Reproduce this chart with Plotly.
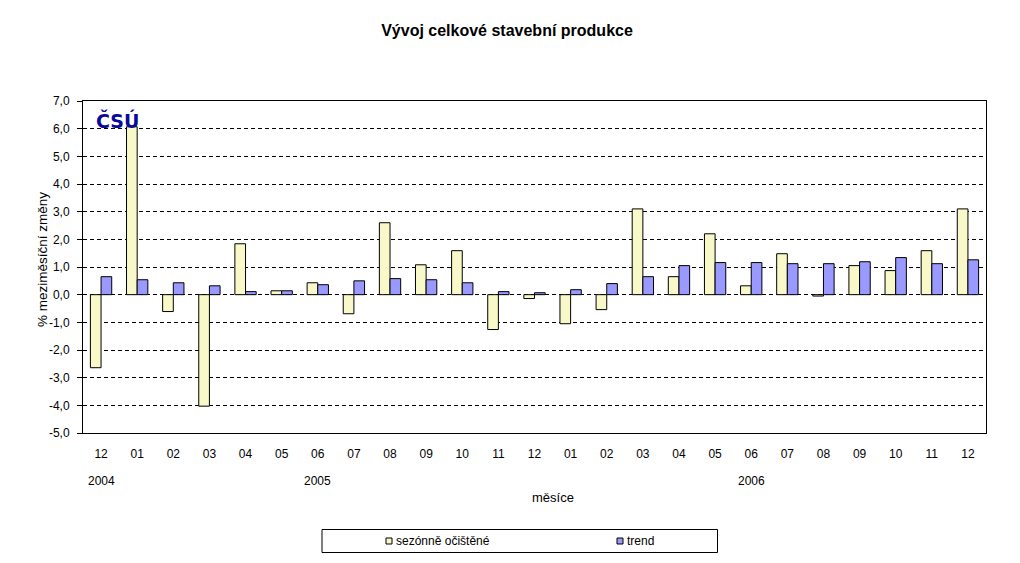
import plotly.graph_objects as go

# ---- data ----
categories = ["2004-12", "2005-01", "2005-02", "2005-03", "2005-04", "2005-05", "2005-06",
              "2005-07", "2005-08", "2005-09", "2005-10", "2005-11", "2005-12",
              "2006-01", "2006-02", "2006-03", "2006-04", "2006-05", "2006-06",
              "2006-07", "2006-08", "2006-09", "2006-10", "2006-11", "2006-12"]
month_labels = ["12", "01", "02", "03", "04", "05", "06", "07", "08", "09", "10", "11", "12",
                "01", "02", "03", "04", "05", "06", "07", "08", "09", "10", "11", "12"]
year_label_cats = ["2004-12", "2005-06", "2006-06"]
year_labels = ["2004", "2005", "2006"]
y_tick_vals = [7, 6, 5, 4, 3, 2, 1, 0, -1, -2, -3, -4, -5]
y_tick_labels = ["7,0", "6,0", "5,0", "4,0", "3,0", "2,0", "1,0", "0,0",
                 "-1,0", "-2,0", "-3,0", "-4,0", "-5,0"]

series_names = ["sezónně očištěné", "trend"]
seasonal = [-2.64, 6.07, -0.61, -4.03, 1.84, 0.14, 0.43, -0.69, 2.60, 1.08, 1.59, -1.26, -0.14,
            -1.05, -0.54, 3.10, 0.65, 2.20, 0.32, 1.48, -0.05, 1.05, 0.87, 1.59, 3.10]
trend = [0.65, 0.54, 0.43, 0.32, 0.11, 0.14, 0.36, 0.50, 0.58, 0.54, 0.43, 0.11, 0.07,
         0.18, 0.40, 0.65, 1.05, 1.16, 1.16, 1.12, 1.12, 1.19, 1.34, 1.12, 1.26]
series_colors = ["#F8F8C8", "#9999FF"]

FONT = "Liberation Sans, Arial, sans-serif"
# page body has an 8px margin; lay the figure out in screen pixels
OFF = 8
SW, SH = 1020, 563
PL, PR, PT, PB = 83, 986, 101, 433     # plot area in screen px
W, H = SW - OFF, SH - OFF
L, T = PL - OFF, PT - OFF
R, B = SW - PR, SH - PB
PW, PH = PR - PL, PB - PT


def px_x(px):
    return (px - PL) / PW


def px_y(py):
    return (PB - py) / PH


fig = go.Figure()
for name, vals, col in zip(series_names, [seasonal, trend], series_colors):
    fig.add_trace(go.Bar(
        x=categories, y=vals, name=name,
        marker=dict(color=col, line=dict(color="black", width=1)),
        showlegend=False,
    ))

txt = dict(family=FONT, size=12, color="black")
annotations = []
# year labels
for cat, lab in zip(year_label_cats, year_labels):
    annotations.append(dict(x=cat, xref="x", y=px_y(481), yref="paper", text=lab,
                            showarrow=False, font=txt, xanchor="center", yanchor="middle"))
# axis titles
annotations.append(dict(x=px_x(553), xref="paper", y=px_y(497), yref="paper", text="měsíce",
                        showarrow=False, font=dict(family=FONT, size=13, color="black"),
                        xanchor="center", yanchor="middle"))
annotations.append(dict(x=px_x(42), xref="paper", y=px_y(260), yref="paper",
                        text="% meziměsíční změny", textangle=-90,
                        showarrow=False, font=dict(family=FONT, size=13.5, color="black"),
                        xanchor="center", yanchor="middle"))
# logo
annotations.append(dict(x=px_x(94), xref="paper", y=px_y(120), yref="paper", text="<b>ČSÚ</b>",
                        showarrow=False, font=dict(family="DejaVu Sans, sans-serif", size=19, color="#0A0A9A"),
                        xanchor="left", yanchor="middle"))

shapes = []
# legend box (drawn manually to match the layout)
shapes.append(dict(type="rect", xref="paper", yref="paper",
                   x0=px_x(322), x1=px_x(717.5), y0=px_y(552.5), y1=px_y(529.5),
                   line=dict(color="black", width=1), fillcolor="white"))
legend_marker_px = [386, 617]
for name, col, mx in zip(series_names, series_colors, legend_marker_px):
    shapes.append(dict(type="rect", xref="paper", yref="paper",
                       x0=px_x(mx), x1=px_x(mx + 6), y0=px_y(544), y1=px_y(538),
                       line=dict(color="black", width=1), fillcolor=col))
    annotations.append(dict(x=px_x(mx + 8), xref="paper", y=px_y(541), yref="paper", text=name,
                            showarrow=False, font=txt, xanchor="left", yanchor="middle"))

fig.update_layout(
    width=W, height=H,
    margin=dict(l=L, r=R, t=T, b=B),
    paper_bgcolor="white", plot_bgcolor="white",
    barmode="group", bargap=0.41, bargroupgap=0,
    font=txt,
    title=dict(text="<b>Vývoj celkové stavební produkce</b>", x=(507 - OFF) / W, xanchor="center",
               y=1 - (30 - OFF) / H, yanchor="middle", font=dict(family=FONT, size=16, color="black")),
    annotations=annotations,
    shapes=shapes,
)
fig.update_xaxes(
    type="category", tickvals=categories, ticktext=month_labels,
    showline=True, linecolor="black", linewidth=1, mirror=True,
    showgrid=False, ticks="", ticklabelstandoff=10,
    tickfont=txt,
)
fig.update_yaxes(
    range=[-5, 7], tickvals=y_tick_vals, ticktext=y_tick_labels,
    showline=True, linecolor="black", linewidth=1, mirror=True,
    showgrid=True, gridcolor="black", gridwidth=1, griddash="4px,3px",
    zeroline=False,
    ticks="outside", ticklen=5, tickcolor="black", ticklabelstandoff=5,
    tickfont=txt,
)

fig.write_html("out.html")
